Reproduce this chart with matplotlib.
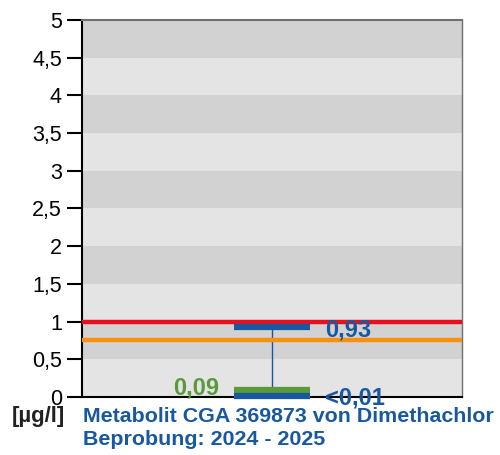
import matplotlib.pyplot as plt
from matplotlib.patches import Rectangle

plt.rcParams['font.family'] = ['Liberation Sans', 'DejaVu Sans']

# values
y_ticks = [0, 0.5, 1, 1.5, 2, 2.5, 3, 3.5, 4, 4.5, 5]
y_labels = ["0", "0,5", "1", "1,5", "2", "2,5", "3", "3,5", "4", "4,5", "5"]
max_val = 0.93
mean_val = 0.09
min_val = 0.0
max_label = "0,93"
mean_label = "0,09"
min_label = "<0,01"
limit_red = 1.0
limit_orange = 0.75
unit = "[µg/l]"
title_lines = ["Metabolit CGA 369873 von Dimethachlor", "Beprobung: 2024 - 2025"]

blue = "#1858a0"
green = "#5a9a3c"

fig = plt.figure(figsize=(5, 4.55), dpi=100)
ax = fig.add_axes([0.164, 0.1275, 0.76, 0.8286])
ax.set_xlim(0, 1)
ax.set_ylim(0, 5)

# alternating background bands
for i in range(10):
    lo = i * 0.5
    c = "#e4e4e4" if i % 2 == 0 else "#d2d2d2"
    ax.add_patch(Rectangle((0, lo), 1, 0.5, facecolor=c, edgecolor="none", zorder=0))

ax.axhline(limit_red, color="#e8101c", lw=3.2, zorder=3)
ax.axhline(limit_orange, color="#f7900e", lw=3.2, zorder=3)

x0 = 0.5
hw = 0.1
ax.plot([x0, x0], [min_val, max_val], color=blue, lw=1, zorder=2)
ax.plot([x0 - hw, x0 + hw], [max_val, max_val], color=blue, lw=4.5, solid_capstyle="butt", zorder=4)
ax.plot([x0 - hw, x0 + hw], [mean_val, mean_val], color=green, lw=4.5, solid_capstyle="butt", zorder=4)
ax.plot([x0 - hw, x0 + hw], [min_val + 0.015, min_val + 0.015], color=blue, lw=4.5,
        solid_capstyle="butt", zorder=4, clip_on=False)

ax.text(x0 + hw + 0.04, max_val - 0.04, max_label, color=blue, fontsize=17, fontweight="bold",
        ha="left", va="center")
ax.text(x0 - hw - 0.04, mean_val + 0.03, mean_label, color=green, fontsize=17, fontweight="bold",
        ha="right", va="center")
ax.text(x0 + hw + 0.04, min_val - 0.02, min_label, color=blue, fontsize=17, fontweight="bold",
        ha="left", va="center", clip_on=False)

ax.set_yticks(y_ticks)
ax.set_yticklabels(y_labels, fontsize=15.5)
ax.set_xticks([])
ax.tick_params(axis="y", length=11, width=1.5, pad=3.5)
for s in ["left", "bottom"]:
    ax.spines[s].set_linewidth(1.5)
    ax.spines[s].set_color("black")
ax.spines["top"].set_color("#707070")
ax.spines["top"].set_linewidth(1.5)
ax.spines["right"].set_color("#707070")
ax.spines["right"].set_linewidth(1)

fig.text(0.024, 0.085, unit, fontsize=16, fontweight="bold", color="#222222", ha="left", va="center")
fig.text(0.166, 0.085, title_lines[0], fontsize=15.4, fontweight="bold", color=blue, ha="left", va="center")
fig.text(0.166, 0.034, title_lines[1], fontsize=15.4, fontweight="bold", color=blue, ha="left", va="center")

fig.savefig("out.png", dpi=100)
